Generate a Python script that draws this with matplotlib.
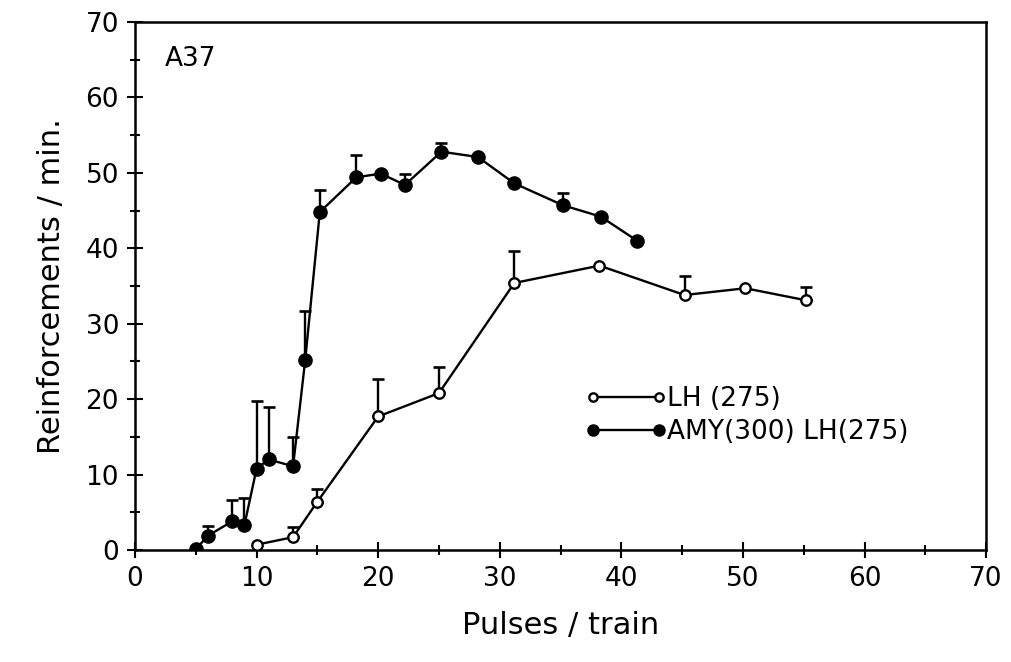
import numpy as np
import matplotlib.pyplot as plt
from matplotlib.ticker import MultipleLocator

# LH (275) alone
lh_x = [10, 13, 15, 20, 25, 31.2, 38.2, 45.2, 50.2, 55.2]
lh_y = [0.7, 1.7, 6.4, 17.7, 20.8, 35.4, 37.7, 33.8, 34.7, 33.1]
lh_err = [0, 1.4, 1.7, 5.0, 3.5, 4.2, 0, 2.5, 0, 1.8]

# AMY(300) LH(275)
amy_x = [5, 6, 8, 9, 10, 11, 13, 14, 15.2, 18.2, 20.2, 22.2, 25.2, 28.2, 31.2, 35.2, 38.3, 41.3]
amy_y = [0.1, 1.9, 3.8, 3.3, 10.8, 12.0, 11.1, 25.2, 44.8, 49.4, 49.9, 48.4, 52.8, 52.1, 48.6, 45.7, 44.2, 41.0]
amy_err = [0, 1.3, 2.8, 3.6, 9.0, 7.0, 3.9, 6.5, 2.9, 2.9, 0, 1.5, 1.2, 0, 0, 1.6, 0, 0]

plt.rcParams['font.family'] = ['DejaVu Sans']

fig = plt.figure(figsize=(10.12, 6.62), dpi=100)
ax = fig.add_axes([0.1334, 0.1692, 0.841, 0.7976])


def upper_bars(x, y, err):
    x = np.array(x)
    y = np.array(y)
    err = np.array(err)
    keep = err > 0
    ax.errorbar(x[keep], y[keep], yerr=[np.zeros(keep.sum()), err[keep]],
                fmt='none', ecolor='black', elinewidth=1.7, capsize=4.5,
                capthick=1.9, zorder=2)


upper_bars(lh_x, lh_y, lh_err)
upper_bars(amy_x, amy_y, amy_err)

ax.plot(lh_x, lh_y, color='black', lw=1.7, marker='o', ms=7.5,
        mfc='white', mec='black', mew=1.7, zorder=3, label='LH (275)')
ax.plot(amy_x, amy_y, color='black', lw=1.7, marker='o', ms=9.5,
        mfc='black', mec='black', zorder=3, label='AMY(300) LH(275)')

ax.set_xlim(0, 70)
ax.set_ylim(0, 70)
ax.xaxis.set_major_locator(MultipleLocator(10))
ax.xaxis.set_minor_locator(MultipleLocator(5))
ax.yaxis.set_major_locator(MultipleLocator(10))
ax.yaxis.set_minor_locator(MultipleLocator(5))
ax.tick_params(which='major', direction='inout', length=11, width=1.5,
               labelsize=19, pad=6)
ax.tick_params(which='minor', direction='inout', length=7, width=1.5)
ax.tick_params(top=False, right=False, which='both')
for s in ax.spines.values():
    s.set_linewidth(1.8)

ax.set_xlabel('Pulses / train', fontsize=22, labelpad=14)
ax.set_ylabel('Reinforcements / min.', fontsize=22, labelpad=14)

ax.text(0.035, 0.955, 'A37', transform=ax.transAxes, fontsize=19,
        va='top', ha='left')

leg = ax.legend(loc='upper left', bbox_to_anchor=(0.513, 0.335),
                numpoints=2, frameon=False, fontsize=19, handlelength=3.1,
                handletextpad=0.0, labelspacing=0.25, borderpad=0)
leg.legend_handles[0].set_markersize(6)
leg.legend_handles[1].set_markersize(8)

fig.savefig('out.png', dpi=100)
